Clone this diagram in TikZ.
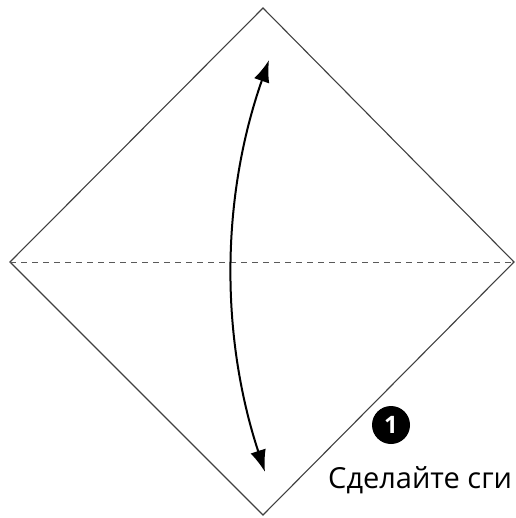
\documentclass[tikz,border=0pt]{standalone}
\usepackage{fontspec}
\setmainfont{Open Sans}
\usepackage{tikz}
\usetikzlibrary{arrows.meta,positioning}

\begin{document}
\begin{tikzpicture}[x=1pt,y=-1pt,
    edge/.style={draw=black!75,line width=1.1pt},
    fold/.style={draw=black!65,line width=0.9pt,dash pattern=on 6pt off 5pt},
    flip/.style={line width=2pt,{Latex[length=22pt,width=16pt]}-{Latex[length=22pt,width=16pt]}},
    stepno/.style={circle,fill=black,text=white,inner sep=0pt,minimum size=38pt,font=\bfseries\fontsize{24}{24}\selectfont}]
      \useasboundingbox (0,0) rectangle (515,518);
      \clip (0,0) rectangle (515,518);

      \coordinate (t) at (263,8);
      \coordinate (l) at (10,262);
      \coordinate (r) at (514,262);
      \coordinate (b) at (263,515);

      \draw[edge] (t) -- (r) -- (b) -- (l) -- cycle;
      \draw[fold] (l) -- (r);

      \coordinate (up) at (269,60);
      \coordinate (down) at (265,472);
      \draw[flip] (up) .. controls (221,197) and (220,335) .. (down);

      \node[stepno] (one) at (391,425) {1};
      \node[anchor=base west,inner sep=0pt,font=\fontsize{29}{29}\selectfont] (txt) at (328,488) {Сделайте сги};
     \end{tikzpicture}
\end{document}
